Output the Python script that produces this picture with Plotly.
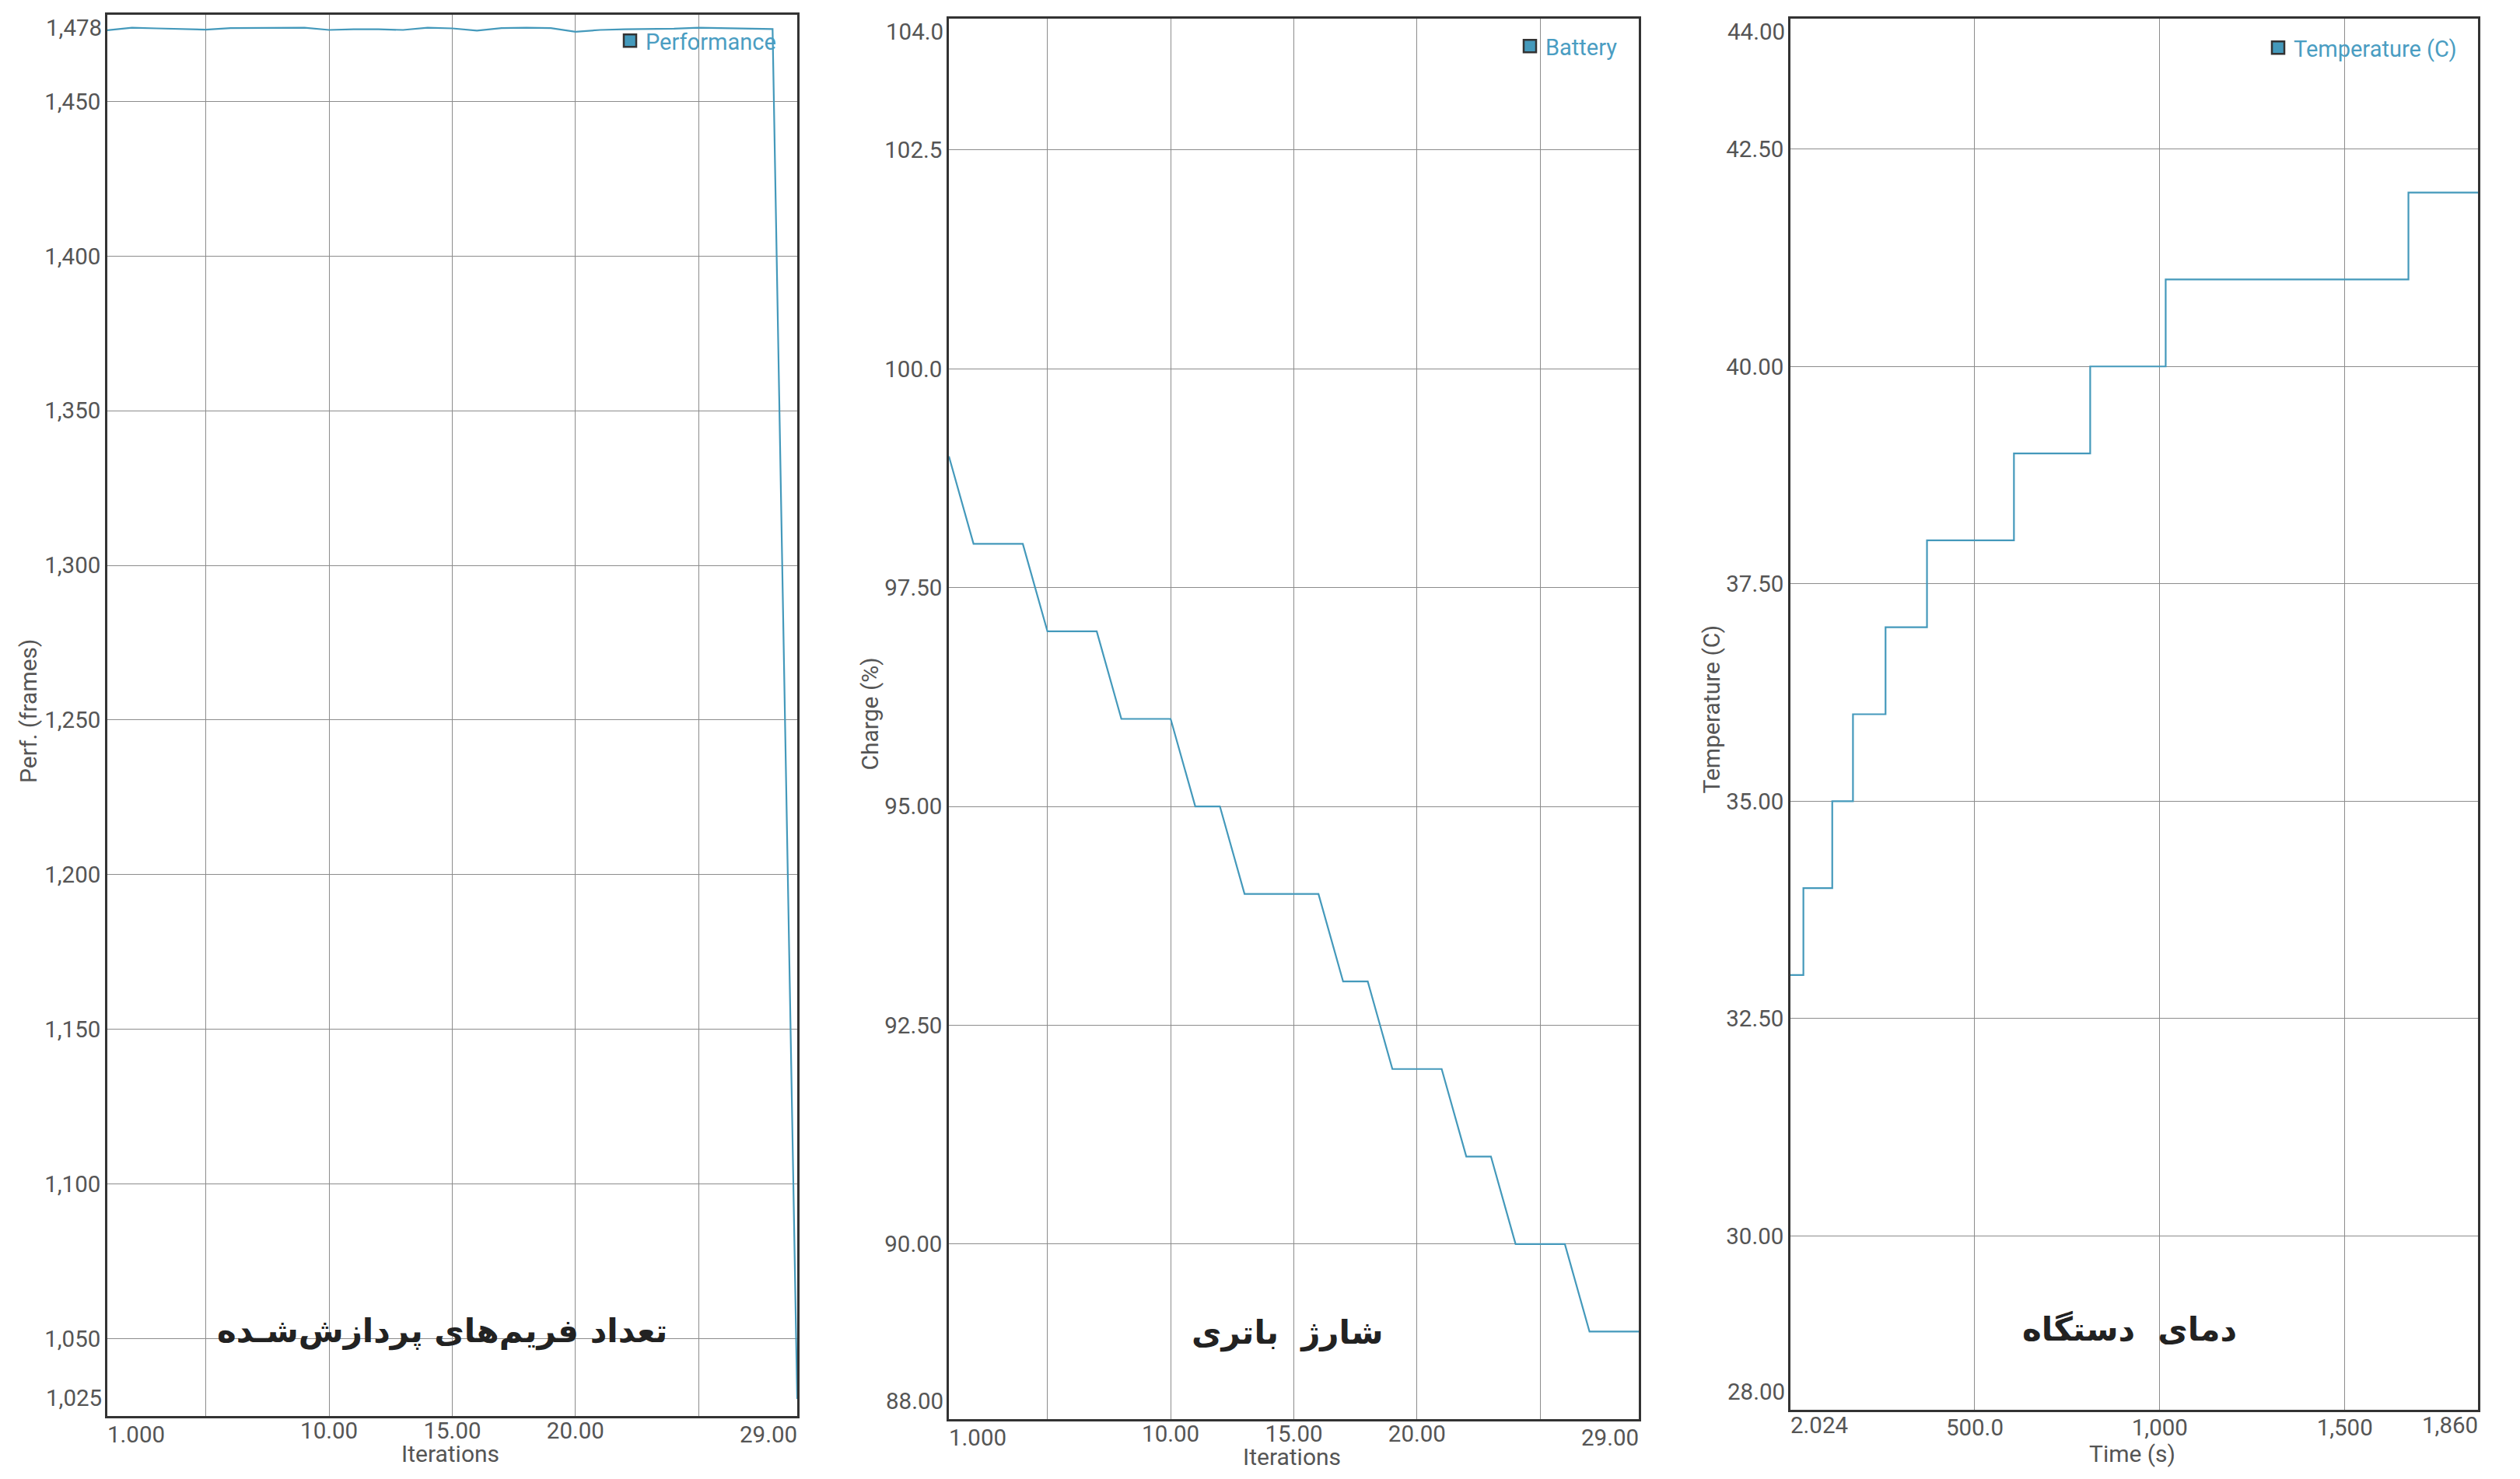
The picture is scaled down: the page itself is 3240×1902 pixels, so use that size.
import plotly.graph_objects as go

# ---------------- data ----------------
iterations = [1, 2, 3, 4, 5, 6, 7, 8, 9, 10, 11, 12, 13, 14, 15,
              16, 17, 18, 19, 20, 21, 22, 23, 24, 25, 26, 27, 28, 29]
perf_frames = [1473.0, 1473.8, 1473.6, 1473.4, 1473.2, 1473.7, 1473.7, 1473.7,
               1473.8, 1473.1, 1473.3, 1473.3, 1473.1, 1473.8, 1473.6, 1472.9,
               1473.7, 1473.8, 1473.7, 1472.5, 1473.1, 1473.3, 1473.4, 1473.5,
               1473.8, 1473.7, 1473.6, 1473.4, 1030.5]
battery_charge = [99, 98, 98, 98, 97, 97, 97, 96, 96, 96, 95, 95, 94, 94, 94,
                  94, 93, 93, 92, 92, 92, 91, 91, 90, 90, 90, 89, 89, 89]
temp_time_s = [2.024, 37, 115, 171, 259, 371, 606, 812, 1016, 1672, 1860]
temp_c = [33, 34, 35, 36, 37, 38, 39, 40, 41, 42, 42]

# tick values / labels
perf_ytickvals = [1050, 1100, 1150, 1200, 1250, 1300, 1350, 1400, 1450]
perf_yticktext = ["1,050", "1,100", "1,150", "1,200", "1,250", "1,300", "1,350", "1,400", "1,450"]
perf_yends = [1025, 1478]
perf_yends_text = ["1,025", "1,478"]

iter_xtickvals = [5, 10, 15, 20, 25]
iter_xticktext = ["", "10.00", "15.00", "20.00", ""]
iter_xends = [1, 29]
iter_xends_text = ["1.000", "29.00"]

batt_ytickvals = [90, 92.5, 95, 97.5, 100, 102.5]
batt_yticktext = ["90.00", "92.50", "95.00", "97.50", "100.0", "102.5"]
batt_yends = [88, 104]
batt_yends_text = ["88.00", "104.0"]

temp_ytickvals = [30, 32.5, 35, 37.5, 40, 42.5]
temp_yticktext = ["30.00", "32.50", "35.00", "37.50", "40.00", "42.50"]
temp_yends = [28, 44]
temp_yends_text = ["28.00", "44.00"]

time_xtickvals = [500, 1000, 1500]
time_xticktext = ["500.0", "1,000", "1,500"]
time_xends = [2.024, 1860]
time_xends_text = ["2.024", "1,860"]

series_names = ["Performance", "Battery", "Temperature (C)"]
x_titles = ["Iterations", "Iterations", "Time (s)"]
y_titles = ["Perf. (frames)", "Charge (%)", "Temperature (C)"]
panel_titles = ["تعداد فریم‌های پردازش‌شـده", "شارژ  باتری", "دمای  دستگاه"]

# ---------------- style ----------------
W, H = 3240, 1902
LINE = "#4499bb"
LEG_TXT = "#4a9dc2"
TICK_C = "#555555"
GRID_C = "#8c8c8c"
BORDER_C = "#333333"
TICK_FONT = dict(family="Roboto", size=29.5, color=TICK_C)
TITLE_FONT = dict(family="Roboto", size=30, color=TICK_C)

# plot-area pixel boxes (left, right, top, bottom)
boxes = [(138, 1025, 19, 1821), (1220, 2107, 24, 1825), (2302, 3186, 24, 1813)]

panels = [
    dict(x=iterations, y=perf_frames, shape="linear",
         xt=(iter_xtickvals, iter_xticktext), xe=(iter_xends, iter_xends_text),
         yt=(perf_ytickvals, perf_yticktext), ye=(perf_yends, perf_yends_text),
         title_dy=109, title_dx=-13, xt_dy=-48, xl_dy=-5, xl_so=-9, leg_dy=8),
    dict(x=iterations, y=battery_charge, shape="linear",
         xt=(iter_xtickvals, iter_xticktext), xe=(iter_xends, iter_xends_text),
         yt=(batt_ytickvals, batt_yticktext), ye=(batt_yends, batt_yends_text),
         title_dy=111, title_dx=-8, xt_dy=-48, xl_dy=-5, xl_so=-9, leg_dy=10),
    dict(x=temp_time_s, y=temp_c, shape="hv",
         xt=(time_xtickvals, time_xticktext), xe=(time_xends, time_xends_text),
         yt=(temp_ytickvals, temp_yticktext), ye=(temp_yends, temp_yends_text),
         title_dy=103, title_dx=-6, xt_dy=-57, xl_dy=-1, xl_so=-5, leg_dy=12),
]

fig = go.Figure()
annotations = []
layout = dict(
    width=W, height=H,
    margin=dict(l=0, r=0, t=0, b=0),
    paper_bgcolor="white", plot_bgcolor="white",
    font=dict(family="Roboto", color=TICK_C),
)

for i, (p, box) in enumerate(zip(panels, boxes)):
    n = "" if i == 0 else str(i + 1)
    xa, ya = "x" + n, "y" + n
    l, r, t, b = box
    xdom = [l / W, r / W]
    ydom = [1 - b / H, 1 - t / H]
    leg = "legend" + n

    fig.add_trace(go.Scatter(x=p["x"], y=p["y"], mode="lines",
                             line=dict(color=LINE, width=2.2, shape=p["shape"]),
                             xaxis=xa, yaxis=ya, showlegend=False,
                             hoverinfo="skip"))
    fig.add_trace(go.Scatter(x=[None], y=[None], mode="markers",
                             name=series_names[i],
                             marker=dict(symbol="square", size=16, color=LINE,
                                         line=dict(color=BORDER_C, width=2.5)),
                             xaxis=xa, yaxis=ya, legend=leg, showlegend=True))

    xe_vals, xe_text = p["xe"]
    ye_vals, ye_text = p["ye"]

    layout["xaxis" + n] = dict(
        domain=xdom, anchor=ya, range=[xe_vals[0], xe_vals[1]],
        tickmode="array", tickvals=p["xt"][0], ticktext=p["xt"][1],
        showgrid=True, gridcolor=GRID_C, gridwidth=1, zeroline=False,
        showline=True, linecolor=BORDER_C, linewidth=2.5, mirror=True,
        ticks="", tickfont=TICK_FONT, automargin=False,
        ticklabelstandoff=p["xl_so"],
    )
    layout["yaxis" + n] = dict(
        domain=ydom, anchor=xa, range=[ye_vals[0], ye_vals[1]],
        tickmode="array", tickvals=p["yt"][0], ticktext=p["yt"][1],
        showgrid=True, gridcolor=GRID_C, gridwidth=1, zeroline=False,
        showline=True, linecolor=BORDER_C, linewidth=2.5, mirror=True,
        ticks="", tickfont=TICK_FONT, automargin=False,
    )
    layout[leg] = dict(
        x=(r - 22) / W, xanchor="right",
        y=1 - (t + p["leg_dy"]) / H, yanchor="top",
        bgcolor="rgba(255,255,255,0)", borderwidth=0,
        font=dict(family="Roboto", size=29, color=LEG_TXT),
        itemclick=False, itemdoubleclick=False,
    )

    dom_x = xa + " domain"
    dom_y = ya + " domain"
    # end tick labels on y axis
    annotations.append(dict(text=ye_text[0], xref=dom_x, x=0, xanchor="right",
                            xshift=-5, yref=ya, y=ye_vals[0], yanchor="bottom",
                            yshift=4, showarrow=False, font=TICK_FONT))
    annotations.append(dict(text=ye_text[1], xref=dom_x, x=0, xanchor="right",
                            xshift=-5, yref=ya, y=ye_vals[1], yanchor="top",
                            yshift=2, showarrow=False, font=TICK_FONT))
    # end tick labels on x axis
    annotations.append(dict(text=xe_text[0], xref=xa, x=xe_vals[0], xanchor="left",
                            xshift=-2, yref=dom_y, y=0, yanchor="top",
                            yshift=p["xl_dy"], showarrow=False, font=TICK_FONT))
    annotations.append(dict(text=xe_text[1], xref=xa, x=xe_vals[1], xanchor="right",
                            xshift=2, yref=dom_y, y=0, yanchor="top",
                            yshift=p["xl_dy"], showarrow=False, font=TICK_FONT))
    # axis titles
    annotations.append(dict(text=x_titles[i], xref=dom_x, x=0.5, xanchor="center",
                            xshift=-3, yref=dom_y, y=0, yanchor="middle",
                            yshift=p["xt_dy"], showarrow=False, font=TITLE_FONT))
    annotations.append(dict(text=y_titles[i], xref=dom_x, x=0, xanchor="center",
                            xshift=-102, yref=dom_y, y=0.5, yanchor="middle",
                            yshift=6, textangle=-90, showarrow=False,
                            font=TITLE_FONT))
    # Persian panel titles
    annotations.append(dict(text=panel_titles[i], xref=dom_x, x=0.5, xanchor="center",
                            xshift=p["title_dx"], yref=dom_y, y=0, yanchor="middle",
                            yshift=p["title_dy"], showarrow=False,
                            font=dict(family="DejaVu Sans", size=42, weight="bold",
                                      color="#222222")))

layout["annotations"] = annotations
fig.update_layout(**layout)
fig.write_html("out.html")
